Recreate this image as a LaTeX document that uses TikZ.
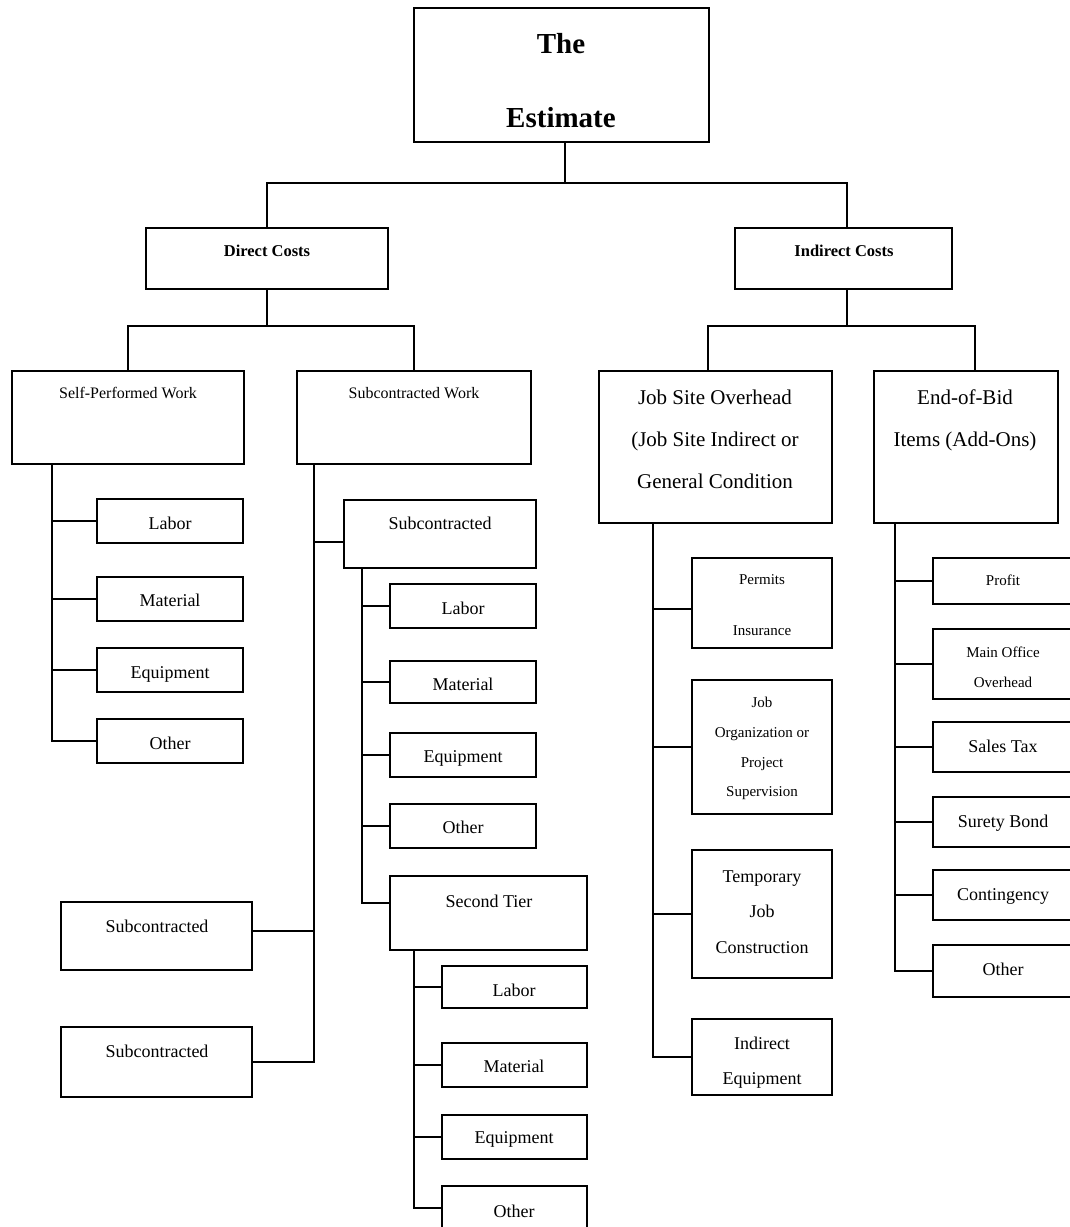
\documentclass[tikz,border=0pt]{standalone}
\usepackage{fontspec}
\setmainfont{Liberation Serif}
\begin{document}
\begin{tikzpicture}[x=1pt,y=-1pt,
  box/.style={draw, line width=2pt, rectangle, inner sep=0pt, outer sep=0pt},
  wire/.style={line width=2pt, line cap=rect},
  lbl/.style={inner sep=0pt, anchor=center, text depth=0pt},
  fTitle/.style={font=\fontsize{29}{32}\selectfont\bfseries, text height=19.1pt},
  fHead/.style={font=\fontsize{16.5}{19}\selectfont\bfseries, text height=10.9pt},
  fSub/.style={font=\fontsize{16}{19}\selectfont, text height=10.6pt},
  fBig/.style={font=\fontsize{21}{24}\selectfont, text height=13.9pt},
  fMid/.style={font=\fontsize{18}{21}\selectfont, text height=11.9pt},
  fSml/.style={font=\fontsize{15}{18}\selectfont, text height=9.9pt}]

% page frame
\useasboundingbox (0,0) rectangle (1070,1227);
\fill[white] (0,0) rectangle (1070,1227);
\clip (0,0) rectangle (1070,1227);

% box helper: name, left, top, right, bottom
\newcommand\costbox[5]{\node[box, minimum width={#4-#2}, minimum height={#5-#3}] (#1) at ({(#2+#4)/2},{(#3+#5)/2}) {};}

% ---- boxes ----
\costbox{top}{414}{8}{709}{142}
\costbox{dc}{146}{228}{388}{289}
\costbox{ic}{735}{228}{952}{289}
\costbox{spw}{12}{371}{244}{464}
\costbox{scw}{297}{371}{531}{464}
\costbox{jso}{599}{371}{832}{523}
\costbox{eob}{874}{371}{1058}{523}
% self-performed items
\costbox{s1}{97}{499}{243}{543}
\costbox{s2}{97}{577}{243}{621}
\costbox{s3}{97}{648}{243}{692}
\costbox{s4}{97}{719}{243}{763}
% subcontracted branch
\costbox{sc}{344}{500}{536}{568}
\costbox{c1}{390}{584}{536}{628}
\costbox{c2}{390}{661}{536}{703}
\costbox{c3}{390}{733}{536}{777}
\costbox{c4}{390}{804}{536}{848}
\costbox{st}{390}{876}{587}{950}
\costbox{t1}{442}{966}{587}{1008}
\costbox{t2}{442}{1043}{587}{1087}
\costbox{t3}{442}{1115}{587}{1159}
\costbox{t4}{442}{1186}{587}{1230}
\costbox{sa}{61}{902}{252}{970}
\costbox{sb}{61}{1027}{252}{1097}
% job site overhead items
\costbox{j1}{692}{558}{832}{648}
\costbox{j2}{692}{680}{832}{814}
\costbox{j3}{692}{850}{832}{978}
\costbox{j4}{692}{1019}{832}{1095}
% end-of-bid items
\costbox{e1}{933}{558}{1073}{604}
\costbox{e2}{933}{629}{1073}{699}
\costbox{e3}{933}{722}{1073}{772}
\costbox{e4}{933}{797}{1073}{847}
\costbox{e5}{933}{870}{1073}{920}
\costbox{e6}{933}{945}{1073}{997}

% ---- texts ----
\node[lbl,fTitle] (x-the) at (561,44) {The};
\node[lbl,fTitle] (x-est) at (561,117.5) {Estimate};
\node[lbl,fHead] (x-dc) at (267,251) {Direct Costs};
\node[lbl,fHead] (x-ic) at (844,251) {Indirect Costs};
\node[lbl,fSub] (x-spw) at (128,393) {Self-Performed Work};
\node[lbl,fSub] (x-scw) at (414,393) {Subcontracted Work};
\node[lbl,fBig] (x-jso1) at (715,398) {Job Site Overhead};
\node[lbl,fBig] (x-jso2) at (715,440) {(Job Site Indirect or};
\node[lbl,fBig] (x-jso3) at (715,482) {General Condition};
\node[lbl,fBig] (x-eob1) at (965,398) {End-of-Bid};
\node[lbl,fBig] (x-eob2) at (965,440) {Items (Add-Ons)};

\node[lbl,fMid] (x-s1) at (170,524) {Labor};
\node[lbl,fMid] (x-s2) at (170,601) {Material};
\node[lbl,fMid] (x-s3) at (170,673) {Equipment};
\node[lbl,fMid] (x-s4) at (170,744) {Other};

\node[lbl,fMid] (x-sc) at (440,524) {Subcontracted};
\node[lbl,fMid] (x-c1) at (463,609) {Labor};
\node[lbl,fMid] (x-c2) at (463,685) {Material};
\node[lbl,fMid] (x-c3) at (463,757) {Equipment};
\node[lbl,fMid] (x-c4) at (463,828) {Other};
\node[lbl,fMid] (x-st) at (489,902) {Second Tier};
\node[lbl,fMid] (x-t1) at (514,991) {Labor};
\node[lbl,fMid] (x-t2) at (514,1067) {Material};
\node[lbl,fMid] (x-t3) at (514,1138) {Equipment};
\node[lbl,fMid] (x-t4) at (514,1212) {Other};
\node[lbl,fMid] (x-sa) at (157,927) {Subcontracted};
\node[lbl,fMid] (x-sb) at (157,1052) {Subcontracted};

\node[lbl,fSml] (x-j1a) at (762,580) {Permits};
\node[lbl,fSml] (x-j1b) at (762,631) {Insurance};
\node[lbl,fSml] (x-j2a) at (762,703) {Job};
\node[lbl,fSml] (x-j2b) at (762,733) {Organization or};
\node[lbl,fSml] (x-j2c) at (762,763) {Project};
\node[lbl,fSml] (x-j2d) at (762,792) {Supervision};
\node[lbl,fMid] (x-j3a) at (762,877) {Temporary};
\node[lbl,fMid] (x-j3b) at (762,912) {Job};
\node[lbl,fMid] (x-j3c) at (762,948) {Construction};
\node[lbl,fMid] (x-j4a) at (762,1044) {Indirect};
\node[lbl,fMid] (x-j4b) at (762,1079) {Equipment};

\node[lbl,fSml] (x-e1) at (1003,580.5) {Profit};
\node[lbl,fSml] (x-e2a) at (1003,652.5) {Main Office};
\node[lbl,fSml] (x-e2b) at (1003,682.5) {Overhead};
\node[lbl,fMid] (x-e3) at (1003,747) {Sales Tax};
\node[lbl,fMid] (x-e4) at (1003,822) {Surety Bond};
\node[lbl,fMid] (x-e5) at (1003,895) {Contingency};
\node[lbl,fMid] (x-e6) at (1003,970) {Other};

% ---- junction points and bus lines ----
\coordinate (tj) at (565,183);
\coordinate (ij) at (847,183);
\coordinate (dj) at (267,326);
\coordinate (kj) at (847,326);
\coordinate (kl) at (708,326);
\coordinate (kr) at (975,326);
\coordinate (bA) at (52,0);
\coordinate (bB) at (314,0);
\coordinate (bC) at (362,0);
\coordinate (bD) at (414,0);
\coordinate (bE) at (653,0);
\coordinate (bF) at (895,0);

% top level
\draw[wire] (top.south -| tj) -- (tj);
\draw[wire] (dc.north) |- (ij) -- (ij |- ic.north);
% direct costs split
\draw[wire] (dc.south -| dj) -- (dj);
\draw[wire] (spw.north) |- (dj) -| (scw.north);
% indirect costs split
\draw[wire] (ic.south -| kj) -- (kj);
\draw[wire] (kl |- jso.north) -- (kl) -- (kr) -- (kr |- eob.north);

% self-performed work bus
\draw[wire] (spw.south -| bA) -- (bA |- s4.west) -- (s4.west);
\foreach \n in {s1,s2,s3} \draw[wire] (bA |- \n.west) -- (\n.west);

% subcontracted work bus
\coordinate (scp) at ([yshift=-8pt]sc.west);
\coordinate (sap) at ([yshift=5pt]sa.east);
\draw[wire] (scw.south -| bB) -- (bB |- sb.east) -- (sb.east);
\draw[wire] (bB |- scp) -- (scp);
\draw[wire] (bB |- sap) -- (sap);

% subcontracted items bus
\coordinate (stp) at ([yshift=10pt]st.west);
\draw[wire] (sc.south -| bC) -- (bC |- stp) -- (stp);
\foreach \n in {c1,c2,c3,c4} \draw[wire] (bC |- \n.west) -- (\n.west);

% second tier bus
\draw[wire] (st.south -| bD) -- (bD |- t4.west) -- (t4.west);
\foreach \n in {t1,t2,t3} \draw[wire] (bD |- \n.west) -- (\n.west);

% job site overhead bus
\coordinate (j1p) at ([yshift=-6pt]j1.west);
\draw[wire] (jso.south -| bE) -- (bE |- j4.west) -- (j4.west);
\draw[wire] (bE |- j1p) -- (j1p);
\foreach \n in {j2,j3} \draw[wire] (bE |- \n.west) -- (\n.west);

% end-of-bid bus
\draw[wire] (eob.south -| bF) -- (bF |- e6.west) -- (e6.west);
\foreach \n in {e1,e2,e3,e4,e5} \draw[wire] (bF |- \n.west) -- (\n.west);

\end{tikzpicture}
\end{document}
